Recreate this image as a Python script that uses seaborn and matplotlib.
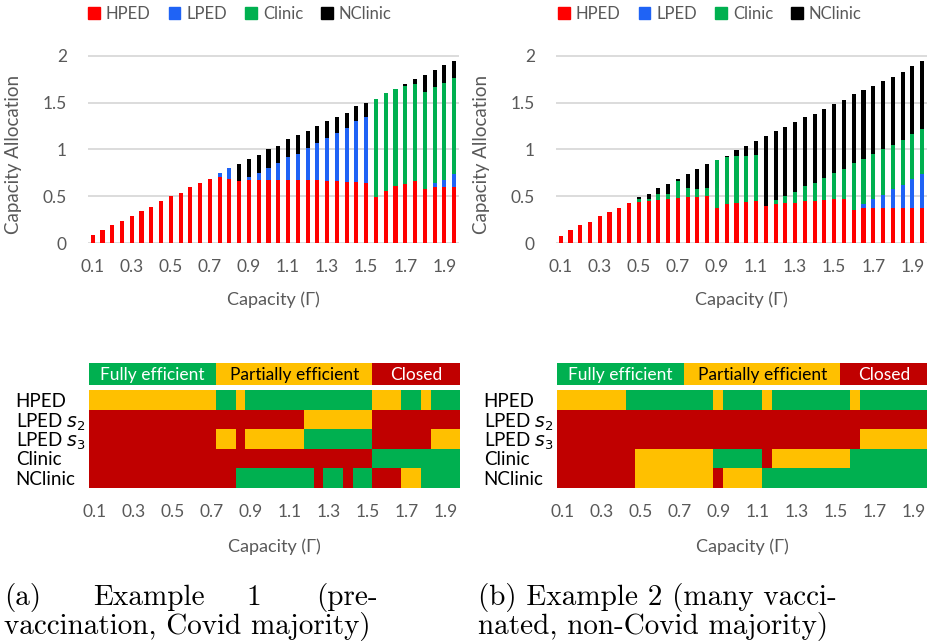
import numpy as np
import pandas as pd
import seaborn as sns
import matplotlib.pyplot as plt
from matplotlib.colors import ListedColormap
from matplotlib.patches import Patch

# capacity values on the x axis (one bar / one heatmap column each)
gamma = [0.10, 0.15, 0.20, 0.25, 0.30, 0.35, 0.40, 0.45, 0.50, 0.55,
         0.60, 0.65, 0.70, 0.75, 0.80, 0.85, 0.90, 0.95, 1.00, 1.05,
         1.10, 1.15, 1.20, 1.25, 1.30, 1.35, 1.40, 1.45, 1.50, 1.55,
         1.60, 1.65, 1.70, 1.75, 1.80, 1.85, 1.90, 1.95]
tick_labels = ["0.1", "0.3", "0.5", "0.7", "0.9", "1.1", "1.3", "1.5", "1.7", "1.9"]

# Example 1 - capacity allocation
hped_a = [0.09, 0.14, 0.19, 0.24, 0.29, 0.34, 0.39, 0.45, 0.50, 0.54, 0.60, 0.64, 0.69,
          0.71, 0.69, 0.66, 0.68, 0.68, 0.68, 0.67, 0.68, 0.67, 0.67, 0.67, 0.66, 0.66,
          0.65, 0.65, 0.64, 0.49, 0.56, 0.61, 0.63, 0.66, 0.58, 0.60, 0.60, 0.60]
lped_a = [0, 0, 0, 0, 0, 0, 0, 0, 0, 0, 0, 0, 0,
          0.04, 0.11, 0, 0.03, 0.07, 0.12, 0.19, 0.24, 0.28, 0.35, 0.40, 0.46, 0.52,
          0.58, 0.65, 0.71, 0, 0, 0, 0, 0, 0, 0.04, 0.08, 0.14]
clinic_a = [0, 0, 0, 0, 0, 0, 0, 0, 0, 0, 0, 0, 0,
            0, 0, 0, 0, 0, 0, 0, 0, 0, 0, 0, 0, 0,
            0, 0, 0, 1.05, 1.04, 1.04, 1.05, 1.04, 1.03, 1.03, 1.03, 1.02]
nclinic_a = [0, 0, 0, 0, 0, 0, 0, 0, 0, 0, 0, 0, 0,
             0, 0, 0.19, 0.19, 0.19, 0.20, 0.18, 0.19, 0.20, 0.18, 0.18, 0.18, 0.17,
             0.16, 0.16, 0.15, 0, 0, 0, 0.02, 0.05, 0.18, 0.18, 0.19, 0.18]

# Example 2 - capacity allocation
hped_b = [0.08, 0.14, 0.19, 0.23, 0.29, 0.33, 0.38, 0.43, 0.44, 0.45, 0.46, 0.47, 0.48,
          0.49, 0.49, 0.50, 0.38, 0.42, 0.43, 0.44, 0.45, 0.40, 0.42, 0.43, 0.43, 0.45,
          0.45, 0.46, 0.47, 0.47, 0.36, 0.38, 0.38, 0.38, 0.38, 0.38, 0.38, 0.38]
lped_b = [0, 0, 0, 0, 0, 0, 0, 0, 0, 0, 0, 0, 0,
          0, 0, 0, 0, 0, 0, 0, 0, 0, 0, 0, 0, 0,
          0, 0, 0, 0, 0, 0.04, 0.09, 0.14, 0.20, 0.245, 0.31, 0.36]
clinic_b = [0, 0, 0, 0, 0, 0, 0, 0, 0.03, 0.02, 0.07, 0.06, 0.18,
            0.10, 0.09, 0.09, 0.51, 0.50, 0.50, 0.49, 0.49, 0, 0.04, 0.07, 0.12, 0.16,
            0.19, 0.24, 0.28, 0.32, 0.50, 0.48, 0.48, 0.48, 0.47, 0.48, 0.48, 0.48]
nclinic_b = [0, 0, 0, 0, 0, 0, 0, 0, 0.02, 0.06, 0.06, 0.10, 0.03,
             0.15, 0.21, 0.25, 0, 0.01, 0.06, 0.11, 0.15, 0.74, 0.74, 0.74, 0.74, 0.74,
             0.735, 0.73, 0.73, 0.74, 0.73, 0.73, 0.73, 0.73, 0.72, 0.725, 0.72, 0.72]

# efficiency status per unit (E = fully efficient, P = partially, C = closed)
row_labels = ["HPED", "LPED $s_2$", "LPED $s_3$", "Clinic", "NClinic"]
status_a = ["PPPPPPPPPPPPPEEPEEEEEEEEEEEEEPPPEEPEEE",
            "CCCCCCCCCCCCCCCCCCCCCCPPPPPPPCCCCCCCCC",
            "CCCCCCCCCCCCCPPCPPPPPPEEEEEEECCCCCCPPP",
            "CCCCCCCCCCCCCCCCCCCCCCCCCCCCCEEEEEEEEE",
            "CCCCCCCCCCCCCCCEEEEEEEECEECEECCCPPEEEE"]
status_b = ["PPPPPPPEEEEEEEEEPEEEEPEEEEEEEEPEEEEEEE",
            "CCCCCCCCCCCCCCCCCCCCCCCCCCCCCCCCCCCCCC",
            "CCCCCCCCCCCCCCCCCCCCCCCCCCCCCCCPPPPPPP",
            "CCCCCCCCPPPPPPPPEEEEECPPPPPPPPEEEEEEEE",
            "CCCCCCCCPPPPPPPPCPPPPEEEEEEEEEEEEEEEEE"]
key_strip = "EEEEEEEEEEEEEPPPPPPPPPPPPPPPPCCCCCCCCC"
key_text = {"E": "Fully efficient", "P": "Partially efficient", "C": "Closed"}

bar_colors = {"HPED": "#FF0000", "LPED": "#1F63F5", "Clinic": "#00B050", "NClinic": "#000000"}
status_code = {"C": 0, "P": 1, "E": 2}
status_cmap = ListedColormap(["#C00000", "#FFC000", "#00B050"])
grey = "#595959"

sns.set_theme(style="white")
plt.rcParams["font.family"] = ["Lato", "DejaVu Sans"]
plt.rcParams["mathtext.fontset"] = "dejavusans"

fig = plt.figure(figsize=(9.28, 6.42), dpi=100)
W, H = 928, 642


def box(left, top, right, bottom):
    return [left / W, 1 - bottom / H, (right - left) / W, (bottom - top) / H]


gamma_str = [f"{g:.2f}" for g in gamma]
tick_pos = [gamma_str.index(f"{float(t):.2f}") for t in tick_labels]


def bar_panel(ax, hped, lped, clinic, nclinic):
    df = pd.DataFrame({"gamma": gamma_str, "HPED": hped, "LPED": lped,
                       "Clinic": clinic, "NClinic": nclinic})
    order = ["HPED", "LPED", "Clinic", "NClinic"]
    cum = df[order].cumsum(axis=1)
    cum["gamma"] = df["gamma"]
    # tallest first, then overlay the lower stacks
    for name in reversed(order):
        sns.barplot(data=cum, x="gamma", y=name, order=gamma_str, color=bar_colors[name],
                    width=0.42, saturation=1, errorbar=None, linewidth=0, ax=ax)
    ax.set_xlim(-0.5, len(gamma) - 0.5)
    ax.set_ylim(0, 2.02)
    ax.set_yticks([0, 0.5, 1, 1.5, 2], ["0", "0.5", "1", "1.5", "2"])
    ax.set_xticks(tick_pos, tick_labels)
    ax.yaxis.grid(True, color="#D9D9D9", linewidth=1.3)
    ax.set_axisbelow(True)
    sns.despine(ax=ax, left=True, bottom=True)
    ax.tick_params(axis="both", length=0, labelsize=12.5, labelcolor=grey)
    ax.tick_params(axis="y", pad=15)
    ax.tick_params(axis="x", pad=11)
    ax.set_ylabel("Capacity Allocation", fontsize=13.5, color=grey)
    ax.set_xlabel("Capacity (Γ)", fontsize=13, color=grey)
    ax.yaxis.set_label_coords(-0.177, 0.47)
    ax.xaxis.set_label_coords(0.5, -0.255)
    handles = [Patch(color=bar_colors[n], label=n) for n in order]
    return handles


def status_panel(ax_key, ax, status):
    codes = np.array([[status_code[c] for c in row] for row in status])
    sns.heatmap(codes, cmap=status_cmap, vmin=-0.5, vmax=2.5, cbar=False,
                xticklabels=False, yticklabels=False, ax=ax)
    ax.set_xticks([p + 0.5 for p in tick_pos], tick_labels)
    ax.set_yticks(np.arange(len(row_labels)) + 0.5, row_labels, rotation=0, ha="left")
    ax.tick_params(axis="x", length=0, labelsize=12.5, labelcolor=grey, pad=12)
    ax.tick_params(axis="y", length=0, labelsize=13.5, labelcolor="black", pad=53)
    ax.set_xlabel("Capacity (Γ)", fontsize=13, color=grey)
    ax.xaxis.set_label_coords(0.5, -0.52)

    key = np.array([[status_code[c] for c in key_strip]])
    sns.heatmap(key, cmap=status_cmap, vmin=-0.5, vmax=2.5, cbar=False,
                xticklabels=False, yticklabels=False, ax=ax_key)
    for c, txt in key_text.items():
        idx = [i for i, s in enumerate(key_strip) if s == c]
        ax_key.text((idx[0] + idx[-1] + 1) / 2, 0.55, txt, ha="center", va="center",
                    fontsize=12.5, color="black" if c == "P" else "white")


ax_a = fig.add_axes(box(87.8, 53.8, 459.0, 243.3))
ax_b = fig.add_axes(box(555.8, 53.8, 927.0, 243.3))
handles = bar_panel(ax_a, hped_a, lped_a, clinic_a, nclinic_a)
bar_panel(ax_b, hped_b, lped_b, clinic_b, nclinic_b)

for cx in (240 / W, 710 / W):
    fig.legend(handles=handles, loc="center", bbox_to_anchor=(cx, 1 - 14 / H), ncol=4,
               frameon=False, fontsize=12, handlelength=0.7, handleheight=0.7,
               handletextpad=0.35, columnspacing=1.1, labelcolor=grey)

key_a = fig.add_axes(box(89.3, 362.7, 460.0, 385.3))
heat_a = fig.add_axes(box(89.3, 390.0, 460.0, 487.7))
key_b = fig.add_axes(box(557.3, 362.7, 928.0, 385.3))
heat_b = fig.add_axes(box(557.3, 390.0, 928.0, 487.7))
status_panel(key_a, heat_a, status_a)
status_panel(key_b, heat_b, status_b)

# sub-figure captions
cap = dict(family="cmr10", fontsize=21, color="black", va="baseline")
fig.text(4 / W, 1 - 605 / H, "(a)", ha="left", **cap)
fig.text(93 / W, 1 - 605 / H, "Example", ha="left", **cap)
fig.text(254 / W, 1 - 605 / H, "1", ha="center", **cap)
fig.text(378 / W, 1 - 605 / H, "(pre-", ha="right", **cap)
fig.text(4 / W, 1 - 634 / H, "vaccination, Covid majority)", ha="left", **cap)
fig.text(478 / W, 1 - 605 / H, "(b) Example 2 (many vacci-", ha="left", **cap)
fig.text(478 / W, 1 - 634 / H, "nated, non-Covid majority)", ha="left", **cap)

fig.savefig("out.png", dpi=100)
